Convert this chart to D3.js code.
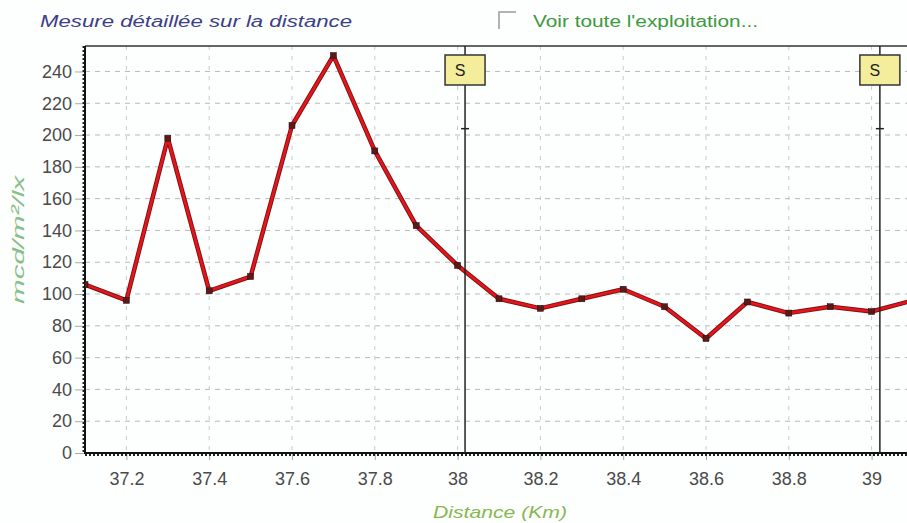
<!DOCTYPE html>
<html>
<head>
<meta charset="utf-8">
<script src="https://cdn.jsdelivr.net/npm/d3@7"></script>
<style>
  body { margin: 0; background: #fdfefe; }
  svg { display: block; font-family: "Liberation Sans", Arial, sans-serif; }
</style>
</head>
<body>
<div id="chart"></div>
<script>
// distance (km) and measured value (mcd/m²/lx)
var distances = [37.1, 37.2, 37.3, 37.4, 37.5, 37.6, 37.7, 37.8, 37.9, 38.0, 38.1,
                 38.2, 38.3, 38.4, 38.5, 38.6, 38.7, 38.8, 38.9, 39.0, 39.1];
var values = [106, 96, 198, 102, 111, 206, 250, 190, 143, 118, 97,
              91, 97, 103, 92, 72, 95, 88, 92, 89, 96];
var xTicks = [37.2, 37.4, 37.6, 37.8, 38, 38.2, 38.4, 38.6, 38.8, 39];
var yTicks = [0, 20, 40, 60, 80, 100, 120, 140, 160, 180, 200, 220, 240];
var markers = [38.018, 39.02];
var markerLabel = "S";
var markerTick = 204;

var ch = {
  w: 907, h: 523,
  l: 85, r: 907, t: 46, b: 453,
  svg: null
};

ch.svg = d3.select('#chart').append('svg')
  .attr('width', ch.w)
  .attr('height', ch.h);

var x = d3.scaleLinear().domain([37.1, 39.1]).range([ch.l, ch.l + 828]);
var y = d3.scaleLinear().domain([0, 256]).range([ch.b, ch.t]);

ch.svg.append('clipPath').attr('id', 'plot')
  .append('rect').attr('x', ch.l).attr('y', ch.t - 2)
  .attr('width', ch.r - ch.l).attr('height', ch.b - ch.t + 4);

// header
ch.svg.append('text')
  .attr('x', 40).attr('y', 27)
  .attr('font-size', 16).attr('font-style', 'italic')
  .attr('fill', '#3c3f86')
  .attr('textLength', 312).attr('lengthAdjust', 'spacingAndGlyphs')
  .text('Mesure détaillée sur la distance');

ch.svg.append('path')
  .attr('d', 'M499,29 V12 H516')
  .attr('fill', 'none').attr('stroke', '#9a9a9a').attr('stroke-width', 1.5);

ch.svg.append('text')
  .attr('x', 533).attr('y', 27)
  .attr('font-size', 16)
  .attr('fill', '#3c9a3c')
  .attr('textLength', 225).attr('lengthAdjust', 'spacingAndGlyphs')
  .text("Voir toute l'exploitation...");

// grid
var grid = ch.svg.append('g').attr('clip-path', 'url(#plot)');
grid.selectAll('line.h').data(yTicks.filter(d => d > 0)).enter()
  .append('line')
    .attr('x1', ch.l).attr('x2', ch.r)
    .attr('y1', d => y(d)).attr('y2', d => y(d))
    .attr('stroke', '#b9b9b9').attr('stroke-dasharray', '5,5');
grid.selectAll('line.v').data(xTicks).enter()
  .append('line')
    .attr('x1', d => x(d)).attr('x2', d => x(d))
    .attr('y1', ch.t).attr('y2', ch.b)
    .attr('stroke', '#c4ccd0').attr('stroke-dasharray', '4,6');

// axes
var yAxis = d3.axisLeft(y).tickValues(yTicks).tickSize(10).tickPadding(3);
ch.svg.append('g')
    .attr('transform', 'translate(' + ch.l + ',0)')
  .call(yAxis)
  .call(g => g.select('.domain').remove())
  .call(g => g.selectAll('line').attr('stroke', '#aaa'))
  .call(g => g.selectAll('text').attr('font-size', 18).attr('fill', '#4a4a4a')
                .attr('font-family', '"Liberation Sans", Arial, sans-serif'));

var xAxis = d3.axisBottom(x).tickValues(xTicks).tickSize(7).tickPadding(12)
  .tickFormat(d3.format('~g'));
ch.svg.append('g')
    .attr('transform', 'translate(0,' + ch.b + ')')
  .call(xAxis)
  .call(g => g.select('.domain').remove())
  .call(g => g.selectAll('line').attr('stroke', '#aaa'))
  .call(g => g.selectAll('text').attr('font-size', 18).attr('fill', '#4a4a4a')
                .attr('font-family', '"Liberation Sans", Arial, sans-serif'));

// frame
ch.svg.append('line')
  .attr('x1', ch.l).attr('x2', ch.r).attr('y1', ch.t).attr('y2', ch.t)
  .attr('stroke', '#333').attr('stroke-width', 1.5);
ch.svg.append('line')
  .attr('x1', ch.l).attr('x2', ch.r).attr('y1', ch.b).attr('y2', ch.b)
  .attr('stroke', '#111').attr('stroke-width', 2);
ch.svg.append('line')
  .attr('x1', ch.l).attr('x2', ch.r).attr('y1', ch.b + 2).attr('y2', ch.b + 2)
  .attr('stroke', '#222').attr('stroke-width', 2).attr('stroke-dasharray', '2,2');
ch.svg.append('line')
  .attr('x1', ch.l).attr('x2', ch.l).attr('y1', ch.t).attr('y2', ch.b + 1)
  .attr('stroke', '#111').attr('stroke-width', 2);
ch.svg.append('line')
  .attr('x1', ch.l - 1.5).attr('x2', ch.l - 1.5).attr('y1', ch.t).attr('y2', ch.b)
  .attr('stroke', '#222').attr('stroke-width', 2).attr('stroke-dasharray', '2,2');

// axis titles
ch.svg.append('text')
  .attr('transform', 'translate(24,' + y(134) + ') rotate(-90)')
  .attr('text-anchor', 'middle')
  .attr('font-size', 17).attr('font-style', 'italic')
  .attr('fill', '#86c086')
  .attr('textLength', 128).attr('lengthAdjust', 'spacingAndGlyphs')
  .text('mcd/m²/lx');

ch.svg.append('text')
  .attr('x', 500).attr('y', 518)
  .attr('text-anchor', 'middle')
  .attr('font-size', 17).attr('font-style', 'italic')
  .attr('fill', '#86b84e')
  .attr('textLength', 134).attr('lengthAdjust', 'spacingAndGlyphs')
  .text('Distance (Km)');

// data line
var pts = distances.map((d, i) => [d, values[i]]);
var line = d3.line().x(d => x(d[0])).y(d => y(d[1]));
var plot = ch.svg.append('g').attr('clip-path', 'url(#plot)');
plot.append('path').datum(pts)
  .attr('d', line).attr('fill', 'none')
  .attr('stroke', '#7a1414').attr('stroke-width', 4.5).attr('stroke-linejoin', 'round');
plot.append('path').datum(pts)
  .attr('d', line).attr('fill', 'none')
  .attr('stroke', '#e8141c').attr('stroke-width', 2.6).attr('stroke-linejoin', 'round');
plot.selectAll('rect.pt').data(pts).enter()
  .append('rect')
    .attr('x', d => x(d[0]) - 3).attr('y', d => y(d[1]) - 3)
    .attr('width', 6).attr('height', 6)
    .attr('fill', '#5a1a1a').attr('stroke', '#2a0a0a').attr('stroke-width', 0.5);

// distance markers
var mk = ch.svg.append('g');
mk.selectAll('line.m').data(markers).enter()
  .append('line')
    .attr('x1', d => x(d)).attr('x2', d => x(d))
    .attr('y1', ch.t).attr('y2', ch.b)
    .attr('stroke', '#222').attr('stroke-width', 1.5);
mk.selectAll('line.t').data(markers).enter()
  .append('line')
    .attr('x1', d => x(d) - 4).attr('x2', d => x(d) + 4)
    .attr('y1', y(markerTick)).attr('y2', y(markerTick))
    .attr('stroke', '#222').attr('stroke-width', 1.5);
mk.selectAll('rect.b').data(markers).enter()
  .append('rect')
    .attr('x', d => x(d) - 20).attr('y', ch.t + 9)
    .attr('width', 40).attr('height', 30)
    .attr('fill', '#f4ee9c').attr('stroke', '#333').attr('stroke-width', 1.5);
mk.selectAll('text.b').data(markers).enter()
  .append('text')
    .attr('x', d => x(d) - 5).attr('y', ch.t + 30)
    .attr('text-anchor', 'middle')
    .attr('font-size', 16).attr('fill', '#222')
    .text(markerLabel);
</script>
</body>
</html>
